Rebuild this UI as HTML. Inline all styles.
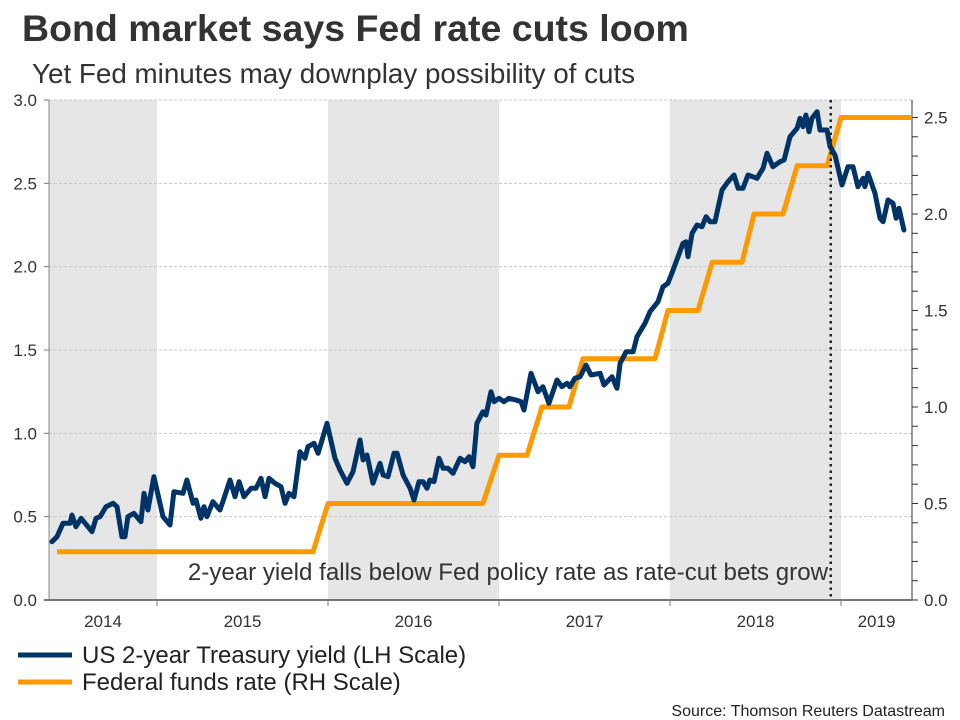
<!DOCTYPE html>
<html><head><meta charset="utf-8"><style>
body{margin:0;background:#fff;width:960px;height:720px;overflow:hidden;font-family:"Liberation Sans",sans-serif;}
svg{position:absolute;left:0;top:0}
</style></head><body>
<svg width="960" height="720" id="chart" font-family="Liberation Sans, sans-serif">
<text x="22" y="41" font-size="37.5" font-weight="bold" fill="#333">Bond market says Fed rate cuts loom</text>
<text x="32" y="83" font-size="27.8" fill="#333">Yet Fed minutes may downplay possibility of cuts</text>
<g id="bands"></g><g id="grid"></g><g id="axes"></g><g id="series"></g>
<text x="828" y="580" font-size="24.1" fill="#333" text-anchor="end">2-year yield falls below Fed policy rate as rate-cut bets grow</text>
<g>
<line x1="18" y1="655" x2="72" y2="655" stroke="#003366" stroke-width="5"/>
<text x="82" y="663" font-size="24" fill="#222">US 2-year Treasury yield (LH Scale)</text>
<line x1="18" y1="682" x2="72" y2="682" stroke="#ff9900" stroke-width="5"/>
<text x="82" y="690" font-size="24" fill="#222">Federal funds rate (RH Scale)</text>
</g>
<text x="945" y="716" font-size="16" fill="#222" text-anchor="end">Source: Thomson Reuters Datastream</text>
</svg>
<script>
const years=[2014,2015,2016,2017,2018,2019];
const leftTicks=[0,0.5,1,1.5,2,2.5,3];
const leftTickLabels=["0.0","0.5","1.0","1.5","2.0","2.5","3.0"];
const rightTicks=[0,0.5,1,1.5,2,2.5];
const rightTickLabels=["0.0","0.5","1.0","1.5","2.0","2.5"];
const tsyDates=[2014.386,2014.415,2014.450,2014.491,2014.503,2014.526,2014.556,2014.620,2014.643,2014.667,2014.702,2014.743,2014.766,2014.795,2014.813,2014.830,2014.865,2014.906,2014.924,2014.947,2014.982,2015.035,2015.076,2015.099,2015.152,2015.175,2015.211,2015.228,2015.257,2015.275,2015.292,2015.327,2015.368,2015.392,2015.427,2015.456,2015.480,2015.509,2015.550,2015.579,2015.608,2015.632,2015.655,2015.690,2015.725,2015.749,2015.772,2015.801,2015.836,2015.865,2015.883,2015.918,2015.942,2015.994,2016.041,2016.070,2016.111,2016.146,2016.187,2016.205,2016.228,2016.263,2016.304,2016.322,2016.351,2016.386,2016.404,2016.439,2016.480,2016.503,2016.532,2016.556,2016.579,2016.596,2016.620,2016.649,2016.673,2016.702,2016.731,2016.772,2016.801,2016.825,2016.848,2016.871,2016.906,2016.924,2016.953,2016.971,2017.000,2017.029,2017.058,2017.099,2017.129,2017.146,2017.187,2017.228,2017.257,2017.292,2017.339,2017.368,2017.398,2017.415,2017.444,2017.474,2017.509,2017.538,2017.591,2017.614,2017.661,2017.690,2017.708,2017.743,2017.784,2017.807,2017.854,2017.883,2017.930,2017.959,2017.988,2018.018,2018.076,2018.094,2018.105,2018.129,2018.158,2018.187,2018.211,2018.234,2018.263,2018.304,2018.339,2018.374,2018.398,2018.427,2018.456,2018.509,2018.544,2018.567,2018.602,2018.643,2018.667,2018.702,2018.743,2018.760,2018.778,2018.795,2018.813,2018.830,2018.860,2018.877,2018.918,2018.936,2018.965,2019.006,2019.041,2019.070,2019.099,2019.129,2019.140,2019.158,2019.199,2019.228,2019.246,2019.275,2019.304,2019.322,2019.339,2019.368];
const tsyValues=[0.35,0.38,0.46,0.46,0.51,0.44,0.49,0.41,0.49,0.5,0.56,0.58,0.56,0.38,0.38,0.5,0.52,0.47,0.64,0.54,0.74,0.5,0.45,0.65,0.64,0.72,0.58,0.6,0.49,0.56,0.5,0.59,0.54,0.61,0.72,0.62,0.71,0.62,0.67,0.67,0.73,0.62,0.73,0.7,0.68,0.58,0.64,0.62,0.89,0.85,0.92,0.94,0.88,1.06,0.85,0.78,0.7,0.77,0.96,0.84,0.87,0.7,0.82,0.75,0.74,0.88,0.88,0.75,0.67,0.6,0.71,0.71,0.67,0.72,0.71,0.85,0.79,0.79,0.76,0.85,0.83,0.86,0.8,1.06,1.13,1.11,1.25,1.19,1.21,1.19,1.21,1.2,1.19,1.14,1.36,1.25,1.28,1.18,1.32,1.28,1.3,1.28,1.33,1.34,1.41,1.35,1.36,1.29,1.34,1.27,1.42,1.49,1.49,1.58,1.66,1.73,1.79,1.88,1.9,1.98,2.14,2.15,2.06,2.2,2.25,2.24,2.3,2.27,2.27,2.46,2.51,2.55,2.47,2.47,2.55,2.53,2.59,2.68,2.6,2.63,2.64,2.78,2.83,2.89,2.84,2.91,2.81,2.89,2.93,2.82,2.82,2.72,2.67,2.49,2.6,2.6,2.48,2.53,2.48,2.56,2.44,2.29,2.27,2.4,2.38,2.29,2.35,2.22];
const fedDates=[2014.415,2015.912,2016.000,2016.906,2017.000,2017.164,2017.251,2017.409,2017.491,2017.912,2017.988,2018.164,2018.246,2018.421,2018.491,2018.661,2018.743,2018.918,2019.000,2019.409];
const fedValues=[0.25,0.25,0.5,0.5,0.75,0.75,1.0,1.0,1.25,1.25,1.5,1.5,1.75,1.75,2.0,2.0,2.25,2.25,2.5,2.5];
const markerDate=2018.94;

const NS="http://www.w3.org/2000/svg";
const X0=49,X1=912,Y0=600;
const xs=t=>157+(t-2015)*171;
const yl=v=>Y0-v*(500/3);
const yr=v=>Y0-v*(482.5/2.5);
function mk(tag,attrs,parent){const e=document.createElementNS(NS,tag);for(const k in attrs)e.setAttribute(k,attrs[k]);document.getElementById(parent).appendChild(e);return e;}

years.forEach((y,i)=>{
  const a=Math.max(X0,xs(y)),b=Math.min(X1,xs(y+1));
  if(i%2===0){const r=mk('rect',{x:a,y:100,width:b-a,height:500,fill:'#e6e6e6'},'bands');
    
    }
  const t=mk('text',{x:(a+b)/2,y:627,'font-size':17,fill:'#333','text-anchor':'middle'},'axes');
  t.textContent=y;
  
  
  if(i>0){const tk=mk('line',{x1:xs(y),x2:xs(y),y1:Y0,y2:Y0+6,stroke:'#777'},'axes');
    
    }
});
leftTicks.forEach((v,i)=>{
  if(v>0){const g=mk('line',{x1:X0,x2:X1,y1:yl(v),y2:yl(v),stroke:'#c8c8c8','stroke-dasharray':'3,2'},'grid');
    
    }
  const tk=mk('line',{x1:X0-5,x2:X0,y1:yl(v),y2:yl(v),stroke:'#777'},'axes');
  
  
  const t=mk('text',{x:37,y:yl(v)+6,'font-size':17,fill:'#333','text-anchor':'end'},'axes');
  t.textContent=leftTickLabels[i];
  
  
});
for(let k=0;k<=25;k++){const v=k/10;
  const tk=mk('line',{x1:X1,x2:X1+6,y1:yr(v),y2:yr(v),stroke:'#333'},'axes');
  
  }
rightTicks.forEach((v,i)=>{
  const t=mk('text',{x:924,y:yr(v)+6,'font-size':17,fill:'#333'},'axes');
  t.textContent=rightTickLabels[i];
  
  
});
let ax=mk('line',{x1:X0,x2:X0,y1:100,y2:Y0,stroke:'#888'},'axes');


ax=mk('line',{x1:X1,x2:X1,y1:100,y2:Y0,stroke:'#333'},'axes');


ax=mk('line',{x1:44,x2:X1,y1:Y0,y2:Y0,stroke:'#777','stroke-width':2},'axes');



const fedPts=fedDates.map((d,i)=>xs(d).toFixed(1)+','+yr(fedValues[i]).toFixed(1)).join(' ');
const fl=mk('polyline',{points:fedPts,fill:'none',stroke:'#ff9900','stroke-width':5,'stroke-linejoin':'round'},'series');


const tsyPts=tsyDates.map((d,i)=>xs(d).toFixed(1)+','+yl(tsyValues[i]).toFixed(1)).join(' ');
const tl=mk('polyline',{points:tsyPts,fill:'none',stroke:'#003366','stroke-width':5,'stroke-linejoin':'round','stroke-linecap':'round'},'series');


const ml=mk('line',{x1:xs(markerDate),x2:xs(markerDate),y1:100,y2:Y0,stroke:'#222','stroke-width':2.5,'stroke-dasharray':'2.5,4'},'series');


</script>
</body></html>
